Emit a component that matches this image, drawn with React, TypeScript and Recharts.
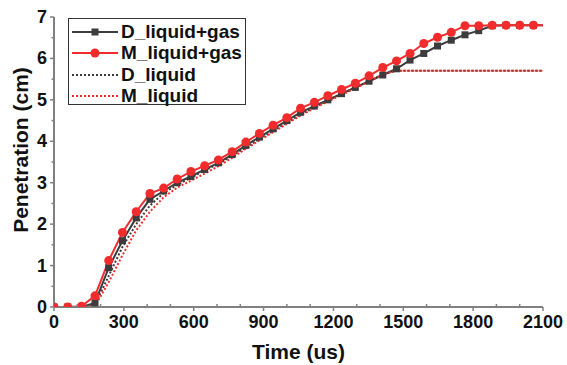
import React from 'react';
import { LineChart, Line, XAxis, YAxis } from 'recharts';

// frame times (us), one frame every ~58.8 us
const times = [0, 59, 118, 176, 235, 294, 353, 412, 471, 529, 588, 647, 706, 765, 824, 882, 941, 1000, 1059, 1118, 1176, 1235, 1294, 1353, 1412, 1471, 1529, 1588, 1647, 1706, 1765, 1824, 1882, 1941, 2000, 2059, 2118];

const dGas = [0, 0, 0, 0.1, 0.95, 1.6, 2.15, 2.6, 2.8, 3.0, 3.15, 3.32, 3.48, 3.68, 3.9, 4.1, 4.3, 4.5, 4.7, 4.85, 5.0, 5.15, 5.3, 5.45, 5.6, 5.75, 5.96, 6.12, 6.3, 6.44, 6.57, 6.67, 6.79, 6.8, 6.8, 6.8, 6.8];
const mGas = [0, 0, 0.02, 0.27, 1.12, 1.8, 2.3, 2.74, 2.87, 3.09, 3.27, 3.41, 3.55, 3.75, 3.98, 4.19, 4.39, 4.57, 4.8, 4.94, 5.1, 5.25, 5.4, 5.58, 5.78, 5.94, 6.12, 6.36, 6.51, 6.63, 6.79, 6.79, 6.8, 6.8, 6.8, 6.8, 6.8];
const dLiq = [0, 0, 0, 0.05, 0.75, 1.45, 2.0, 2.45, 2.75, 2.95, 3.12, 3.3, 3.45, 3.65, 3.85, 4.05, 4.25, 4.45, 4.65, 4.82, 4.98, 5.14, 5.3, 5.45, 5.62, 5.7, 5.7, 5.7, 5.7, 5.7, 5.7, 5.7, 5.7, 5.7, 5.7, 5.7, 5.7];
const mLiq = [0, 0, 0, 0.02, 0.6, 1.25, 1.85, 2.3, 2.65, 2.88, 3.05, 3.22, 3.4, 3.6, 3.82, 4.02, 4.22, 4.42, 4.62, 4.8, 4.96, 5.12, 5.28, 5.44, 5.62, 5.7, 5.7, 5.7, 5.7, 5.7, 5.7, 5.7, 5.7, 5.7, 5.7, 5.7, 5.7];

const xTicks = [0, 100, 200, 300, 400, 500, 600, 700, 800, 900, 1000, 1100, 1200, 1300, 1400, 1500, 1600, 1700, 1800, 1900, 2000, 2100];
const yTicks = [0, 0.5, 1, 1.5, 2, 2.5, 3, 3.5, 4, 4.5, 5, 5.5, 6, 6.5, 7];

const data = times.map((t, i) => ({ t, dGas: dGas[i], mGas: mGas[i], dLiq: dLiq[i], mLiq: mLiq[i] }));

const AXIS = '#808080';
const BLACK = '#3c3c3c';
const RED = '#f22c2c';
const FONT = '"Liberation Sans", Arial, sans-serif';

const XTick = (props: any) => {
  const { x, y, payload } = props;
  const v = payload.value;
  const major = v % 300 === 0;
  return (
    <g>
      {major ? (
        <line x1={x} x2={x} y1={y} y2={y + 4} stroke={AXIS} strokeWidth={1.5} />
      ) : (
        <line x1={x} x2={x} y1={y} y2={y - 3} stroke={AXIS} strokeWidth={1.5} />
      )}
      {major && (
        <text x={x} y={y + 21} textAnchor="middle" fontFamily={FONT} fontWeight="bold" fontSize={18} fill="#111">
          {v}
        </text>
      )}
    </g>
  );
};

const YTick = (props: any) => {
  const { x, y, payload } = props;
  const v = payload.value;
  const major = Number.isInteger(v);
  return (
    <g>
      <line x1={x} x2={x - (major ? 4 : 2.5)} y1={y} y2={y} stroke={AXIS} strokeWidth={1.5} />
      {major && (
        <text x={x - 7} y={y + 6} textAnchor="end" fontFamily={FONT} fontWeight="bold" fontSize={18} fill="#111">
          {v}
        </text>
      )}
    </g>
  );
};

const YTitle = () => (
  <text
    x={20}
    y={150}
    transform="rotate(-90 20 150)"
    textAnchor="middle"
    dominantBaseline="central"
    fontFamily={FONT}
    fontWeight="bold"
    fontSize={21}
    fill="#111"
  >
    Penetration (cm)
  </text>
);

const SquareDot = (props: any) => {
  const { cx, cy, index } = props;
  if (cx == null || cy == null) return <g key={`sq-${index}`} />;
  return <rect key={`sq-${index}`} x={cx - 3.5} y={cy - 3.5} width={7} height={7} fill={BLACK} />;
};

const legendItems = [
  { name: 'D_liquid+gas', color: BLACK, dash: undefined, marker: 'square' },
  { name: 'M_liquid+gas', color: RED, dash: undefined, marker: 'circle' },
  { name: 'D_liquid', color: BLACK, dash: '2 2', marker: '' },
  { name: 'M_liquid', color: RED, dash: '2 2', marker: '' },
];

const ChartLegend = () => (
  <div
    style={{
      position: 'absolute',
      left: 68,
      top: 18,
      width: 178,
      height: 87,
      border: '1.5px solid #333',
      background: '#fff',
      boxSizing: 'border-box',
      padding: '2px 0 0 3px',
    }}
  >
    {legendItems.map((it) => (
      <div key={it.name} style={{ display: 'flex', alignItems: 'center', height: 21.5, whiteSpace: 'nowrap' }}>
        <svg width={46} height={12} style={{ marginRight: 3, flexShrink: 0 }}>
          <line x1={0} x2={46} y1={6} y2={6} stroke={it.color} strokeWidth={2} strokeDasharray={it.dash} />
          {it.marker === 'square' && <rect x={19.5} y={2.5} width={7} height={7} fill={it.color} />}
          {it.marker === 'circle' && <circle cx={23} cy={6} r={4.5} fill={it.color} />}
        </svg>
        <span style={{ fontFamily: FONT, fontWeight: 'bold', fontSize: 19, color: '#111', lineHeight: '20px' }}>
          {it.name}
        </span>
      </div>
    ))}
  </div>
);

export default function App() {
  return (
    <div style={{ position: 'absolute', left: 0, top: 0, width: 567, height: 365, background: '#fff' }}>
      <LineChart width={567} height={365} data={data} margin={{ top: 17, right: 24, bottom: 0, left: 0 }}>
        <XAxis
          dataKey="t"
          type="number"
          domain={[0, 2100]}
          allowDataOverflow
          ticks={xTicks}
          interval={0}
          height={58}
          tickSize={0}
          tickMargin={0}
          tickLine={false}
          tick={<XTick />}
          axisLine={{ stroke: AXIS, strokeWidth: 2 }}
          label={{
            value: 'Time (us)',
            position: 'insideBottom',
            offset: 6,
            style: { fontFamily: FONT, fontWeight: 'bold', fontSize: 21, fill: '#111' },
          }}
        />
        <YAxis
          type="number"
          domain={[0, 7]}
          allowDataOverflow
          ticks={yTicks}
          interval={0}
          width={54}
          tickSize={0}
          tickMargin={0}
          tickLine={false}
          tick={<YTick />}
          axisLine={{ stroke: AXIS, strokeWidth: 2 }}
          label={{ content: <YTitle /> }}
        />
        <Line dataKey="dGas" stroke={BLACK} strokeWidth={2} dot={<SquareDot />} isAnimationActive={false} />
        <Line dataKey="mGas" stroke={RED} strokeWidth={2} dot={{ r: 4.5, fill: RED, stroke: RED, strokeWidth: 0 }} isAnimationActive={false} />
        <Line dataKey="dLiq" stroke={BLACK} strokeWidth={2} strokeDasharray="2 2" dot={false} isAnimationActive={false} />
        <Line dataKey="mLiq" stroke={RED} strokeWidth={2} strokeDasharray="2 2" dot={false} isAnimationActive={false} />
      </LineChart>
      <ChartLegend />
    </div>
  );
}
